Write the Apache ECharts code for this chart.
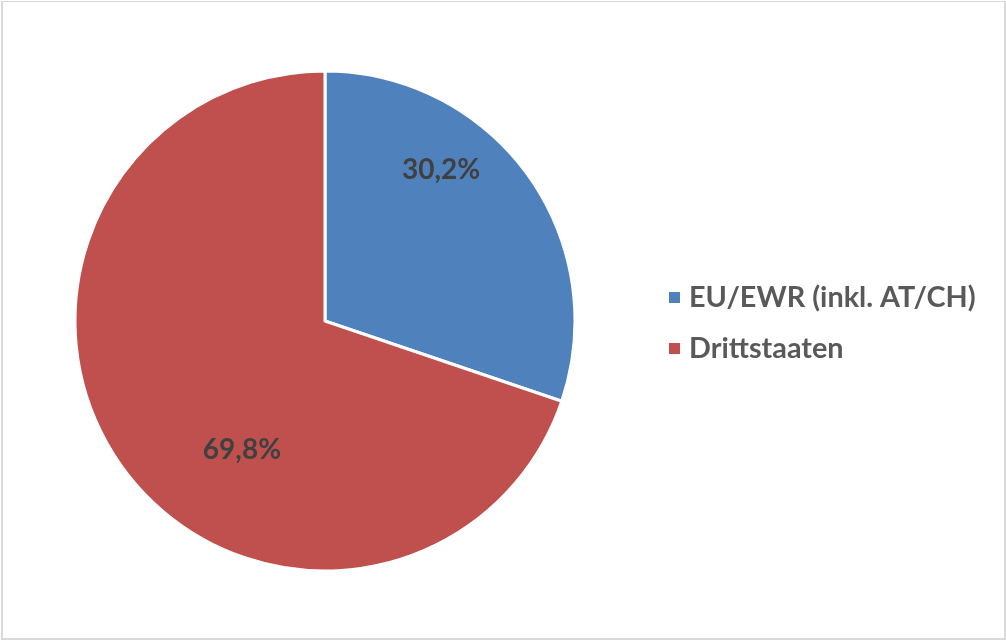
<!DOCTYPE html>
<html><head><meta charset="utf-8">
<script src="https://cdn.jsdelivr.net/npm/echarts@6/dist/echarts.min.js"></script>
<style>
html,body{margin:0;padding:0;background:#fff;}
#wrap{position:absolute;left:1px;top:1px;width:1001px;height:636px;border:2px solid #d9d9d9;border-width:1px 2px 2px 2px;}
#c{position:absolute;left:0;top:0;width:1006px;height:641px;}
</style></head>
<body>
<div id="wrap"></div>
<div id="c"></div>
<script>
const categories = ['EU/EWR (inkl. AT/CH)', 'Drittstaaten'];
const values = [30.2, 69.8];
const colors = ['#4F81BD', '#C0504D'];
const labelOffsets = [[12, -76], [21, 54]];

const chart = echarts.init(document.getElementById('c'), null, {renderer: 'canvas'});
chart.setOption({
  animation: false,
  legend: {
    orient: 'vertical', left: 662, top: 278, itemGap: 22,
    itemWidth: 13, itemHeight: 13, icon: 'rect',
    textStyle: {fontFamily: 'Lato', fontWeight: 'bold', fontSize: 28.8, color: '#595959', padding: [0,0,0,3]},
    data: categories
  },
  series: [{
    type: 'pie', center: [325, 321], radius: 250, startAngle: 90, clockwise: true,
    itemStyle: {borderColor: '#fff', borderWidth: 3},
    label: {
      position: 'inside', fontFamily: 'Lato', fontWeight: 'bold', fontSize: 28, color: '#404040',
      formatter: p => p.value.toFixed(1).replace('.', ',') + '%'
    },
    labelLine: {show: false},
    data: categories.map((n, i) => ({name: n, value: values[i], itemStyle: {color: colors[i]}, label: {offset: labelOffsets[i]}}))
  }]
});
</script>
</body></html>
